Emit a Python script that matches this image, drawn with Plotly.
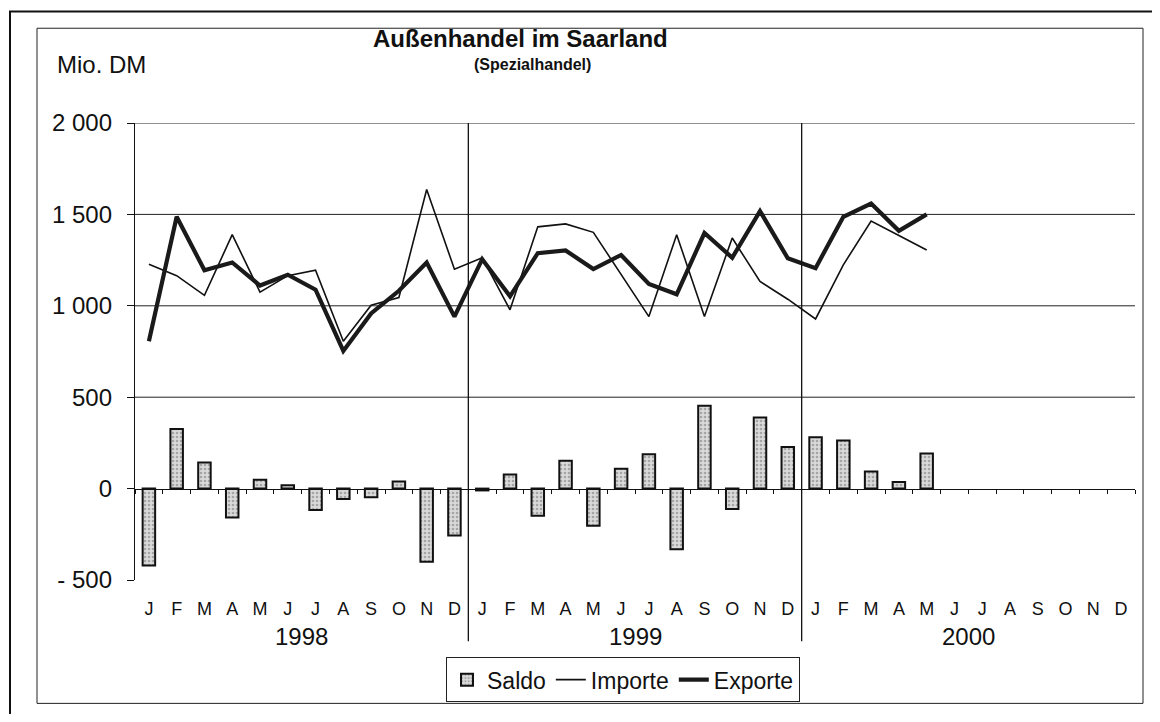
import plotly.graph_objects as go

# ---------------- data ----------------
months = ["J", "F", "M", "A", "M", "J", "J", "A", "S", "O", "N", "D"] * 3
years = ["1998", "1999", "2000"]

exporte = [806, 1487, 1195, 1237, 1111, 1170, 1088, 753, 958, 1082, 1237, 941,
           1255, 1052, 1288, 1303, 1201, 1278, 1120, 1063, 1398, 1263, 1518, 1260,
           1206, 1487, 1559, 1410, 1500]
importe = [1227, 1165, 1057, 1389, 1075, 1165, 1195, 806, 1003, 1045, 1636, 1200,
           1263, 978, 1432, 1448, 1402, 1172, 941, 1389, 941, 1371, 1133, 1036,
           928, 1224, 1464, 1385, 1305]
saldo = [-421, 326, 143, -158, 48, 18, -117, -57, -47, 39, -400, -256,
         -10, 77, -149, 152, -203, 109, 188, -332, 453, -111, 389, 227,
         281, 263, 93, 36, 192]

y_ticks = [-500, 0, 500, 1000, 1500, 2000]
y_ticktext = ["- 500", "0", "500", "1 000", "1 500", "2 000"]
grid_vals = [500, 1000, 1500, 2000]

n = len(months)
xs = list(range(n))
xd = xs[:len(exporte)]

# ---------------- layout geometry ----------------
# page body has an 8px margin, so figure coords = screen coords - 8
OFF = 8
W, H = 1144, 706
PLOT_L, PLOT_R, PLOT_T, PLOT_B = 135, 1135, 123, 586   # screen coords
L, T = PLOT_L - OFF, PLOT_T - OFF
R = W - (PLOT_R - OFF)
B = H - (PLOT_B - OFF)
pw, ph = PLOT_R - PLOT_L, PLOT_B - PLOT_T


def px2x(px):
    return (px - PLOT_L) / pw


def py2y(py):
    return (PLOT_B - py) / ph


FONT = "Liberation Sans, Arial, sans-serif"

fig = go.Figure()

fig.add_trace(go.Bar(
    x=xd, y=saldo, name="Saldo", width=0.45,
    marker=dict(color="#c8c8c8",
                line=dict(color="#111111", width=2),
                pattern=dict(shape=".", fgcolor="#707070", bgcolor="#dadada",
                             size=4, solidity=0.35)),
))
fig.add_trace(go.Scatter(
    x=xd, y=importe, name="Importe", mode="lines",
    line=dict(color="#111111", width=1.6),
))
fig.add_trace(go.Scatter(
    x=xd, y=exporte, name="Exporte", mode="lines",
    line=dict(color="#1a1a1a", width=4.2),
))

shapes = []
# gridlines
for g in grid_vals:
    shapes.append(dict(type="line", xref="paper", yref="y", x0=0, x1=1, y0=g, y1=g,
                       line=dict(color="#222222", width=1), layer="below"))
# year separators
for k in range(1, len(years)):
    xb = 12 * k - 0.5
    shapes.append(dict(type="line", xref="x", yref="paper", x0=xb, x1=xb,
                       y0=1, y1=py2y(648), line=dict(color="#111111", width=1.3)))
# inner frame
shapes.append(dict(type="rect", xref="paper", yref="paper",
                   x0=px2x(37), x1=px2x(1143), y0=py2y(711), y1=py2y(27),
                   line=dict(color="#222222", width=1)))
# outer frame
shapes.append(dict(type="rect", xref="paper", yref="paper",
                   x0=px2x(10), x1=px2x(1175), y0=py2y(735), y1=py2y(10),
                   line=dict(color="#111111", width=2)))

annotations = [
    dict(text="<b>Außenhandel im Saarland</b>", xref="paper", yref="paper",
         x=px2x(520), y=py2y(37), xanchor="center", yanchor="middle",
         showarrow=False, font=dict(family=FONT, size=24, color="#111111")),
    dict(text="<b>(Spezialhandel)</b>", xref="paper", yref="paper",
         x=px2x(532), y=py2y(64), xanchor="center", yanchor="middle",
         showarrow=False, font=dict(family=FONT, size=16, color="#111111")),
    dict(text="Mio. DM", xref="paper", yref="paper",
         x=px2x(55), y=py2y(64), xanchor="left", yanchor="middle",
         showarrow=False, font=dict(family=FONT, size=24, color="#111111")),
]
for k, yr in enumerate(years):
    annotations.append(dict(text=yr, xref="x", yref="paper", x=12 * k + 5.5,
                            y=py2y(643), xanchor="center", yanchor="middle",
                            showarrow=False,
                            font=dict(family=FONT, size=24, color="#111111")))

fig.update_layout(
    width=W, height=H,
    margin=dict(l=L, r=R, t=T, b=B),
    paper_bgcolor="white", plot_bgcolor="white",
    font=dict(family=FONT, size=22, color="#111111"),
    barmode="overlay",
    showlegend=True,
    legend=dict(orientation="h", x=px2x(623), y=py2y(687),
                xanchor="center", yanchor="middle",
                bordercolor="#222222", borderwidth=1,
                font=dict(family=FONT, size=23, color="#111111"),
                itemwidth=30, tracegroupgap=0, bgcolor="white"),
    shapes=shapes,
    annotations=annotations,
    xaxis=dict(range=[-0.5, n - 0.5], tickmode="array", tickvals=xs, ticktext=months,
               showgrid=False, zeroline=False, showline=False, ticks="",
               tickfont=dict(family=FONT, size=18, color="#111111"),
               ticklabelstandoff=16, fixedrange=True),
    xaxis2=dict(range=[-0.5, n - 0.5], overlaying="x", anchor="free",
                position=(0 - y_ticks[0]) / (y_ticks[-1] - y_ticks[0]),
                tickmode="array", tickvals=[i - 0.5 for i in range(n + 1)],
                showticklabels=False, ticks="outside", ticklen=4, tickwidth=1,
                tickcolor="#111111", showline=True, linecolor="#111111", linewidth=1.3,
                showgrid=False, zeroline=False),
    yaxis=dict(range=[y_ticks[0], y_ticks[-1]], tickmode="array", tickvals=y_ticks,
               ticktext=y_ticktext, showgrid=False, zeroline=False,
               showline=True, linecolor="#111111", linewidth=1.3,
               ticks="outside", ticklen=7, tickcolor="#111111",
               ticklabelstandoff=10,
               tickfont=dict(family=FONT, size=24, color="#111111")),
)

# dummy trace to activate xaxis2
fig.add_trace(go.Scatter(x=[None], y=[None], xaxis="x2", showlegend=False,
                         hoverinfo="skip"))

fig.write_html("out.html")
